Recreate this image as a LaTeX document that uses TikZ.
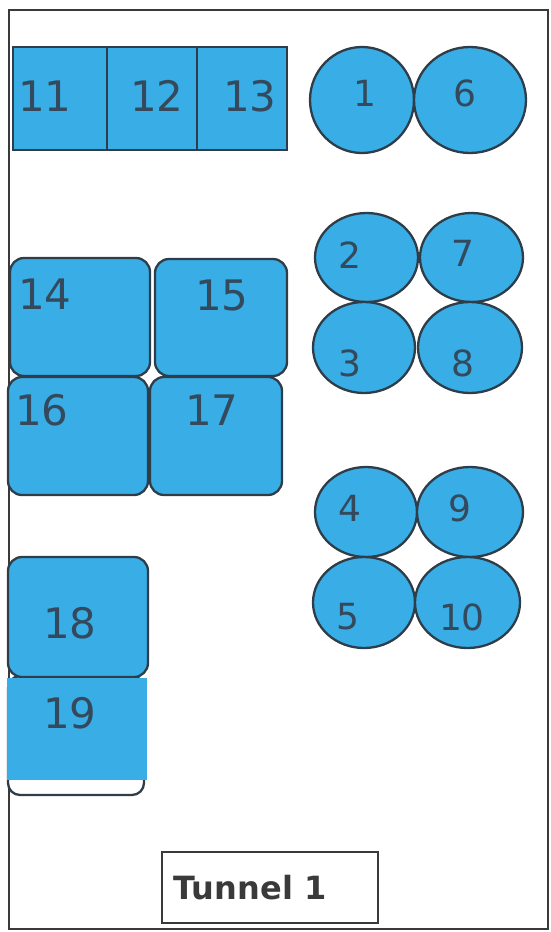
\documentclass[tikz,border=0pt]{standalone}
\usepackage{fontspec}
\usetikzlibrary{shapes.geometric}
\newfontfamily\numfont{DejaVu Sans}
\definecolor{clrPod}{HTML}{38ADE6}
\definecolor{clrPodBd}{HTML}{2E3D48}
\definecolor{clrNum}{HTML}{344A5C}
\definecolor{clrWall}{HTML}{3A3A3A}

\begin{document}
\begin{tikzpicture}[
  x=1pt, y=-1pt,
  sq/.style = {
    rectangle, draw=clrPodBd, fill=clrPod, line width=2.3pt,
    inner sep=0pt
  },
  blk/.style = {sq, rounded corners=14pt},
  pod/.style = {
    ellipse, draw=clrPodBd, fill=clrPod, line width=2.3pt,
    inner sep=0pt
  },
  num/.style  = {font=\numfont\fontsize{42}{42}\selectfont, text=clrNum, inner sep=0pt},
  snum/.style = {font=\numfont\fontsize{36}{36}\selectfont, text=clrNum, inner sep=0pt},
  tag/.style  = {
    rectangle, draw=clrWall, line width=2.3pt, fill=white,
    font=\numfont\bfseries\fontsize{32}{32}\selectfont, text=clrWall,
    minimum width=216pt, minimum height=71pt
  }
]
  \useasboundingbox (0,0) rectangle (551,932);
  % tunnel wall
  \draw[clrWall, line width=2.4pt] (9,10) rectangle (548,929);

  % top row of boxes
  \node[sq, minimum width=94pt, minimum height=103pt] (s11) at (60,98.5)  {};
  \node[sq, minimum width=90pt, minimum height=103pt] (s12) at (152,98.5) {};
  \node[sq, minimum width=90pt, minimum height=103pt] (s13) at (242,98.5) {};
  \node[num] (n11) at (45,96)  {11};
  \node[num] (n12) at (157,96) {12};
  \node[num] (n13) at (250,96) {13};

  % big blocks
  \node[blk, minimum width=140pt, minimum height=118pt] (s14) at (80,317)    {};
  \node[blk, minimum width=132pt, minimum height=117pt] (s15) at (221,317.5) {};
  \node[blk, minimum width=140pt, minimum height=118pt] (s16) at (78,436)    {};
  \node[blk, minimum width=132pt, minimum height=118pt] (s17) at (216,436)   {};
  \node[num] (n14) at (45,294)  {14};
  \node[num] (n15) at (222,295) {15};
  \node[num] (n16) at (42,410)  {16};
  \node[num] (n17) at (212,410) {17};

  % 18 and 19
  \draw[clrPodBd, line width=2.3pt, fill=white, rounded corners=12pt]
    (8,676) rectangle (144,795);
  \node[blk, minimum width=140pt, minimum height=120pt] (s18) at (78,617) {};
  \node[rectangle, fill=clrPod, minimum width=140pt, minimum height=102pt,
        inner sep=0pt] (s19) at (77,729) {};
  \node[num] (n18) at (70,623) {18};
  \node[num] (n19) at (70,713) {19};

  % round pods
  \node[pod, minimum width=104pt, minimum height=106pt] (s1)  at (362,100)   {};
  \node[pod, minimum width=112pt, minimum height=106pt] (s6)  at (470,100)   {};
  \node[pod, minimum width=103pt, minimum height=89pt]  (s2)  at (366.5,257.5) {};
  \node[pod, minimum width=103pt, minimum height=89pt]  (s7)  at (471.5,257.5) {};
  \node[pod, minimum width=102pt, minimum height=91pt]  (s3)  at (364,347.5) {};
  \node[pod, minimum width=104pt, minimum height=91pt]  (s8)  at (470,347.5) {};
  \node[pod, minimum width=102pt, minimum height=90pt]  (s4)  at (366,512)   {};
  \node[pod, minimum width=106pt, minimum height=90pt]  (s9)  at (470,512)   {};
  \node[pod, minimum width=102pt, minimum height=91pt]  (s5)  at (364,602.5) {};
  \node[pod, minimum width=105pt, minimum height=91pt]  (s10) at (467.5,602.5) {};
  \node[snum] (n1)  at (365,93)  {1};
  \node[snum] (n6)  at (465,93)  {6};
  \node[snum] (n2)  at (350,255) {2};
  \node[snum] (n7)  at (463,253) {7};
  \node[snum] (n3)  at (350,363) {3};
  \node[snum] (n8)  at (463,363) {8};
  \node[snum] (n4)  at (350,508) {4};
  \node[snum] (n9)  at (460,508) {9};
  \node[snum] (n5)  at (348,617) {5};
  \node[snum] (n10) at (462,617) {10};

  % name plate
  \node[tag] (plate) at (270,887.5) {\hspace*{-40pt}Tunnel 1};
\end{tikzpicture}
\end{document}
